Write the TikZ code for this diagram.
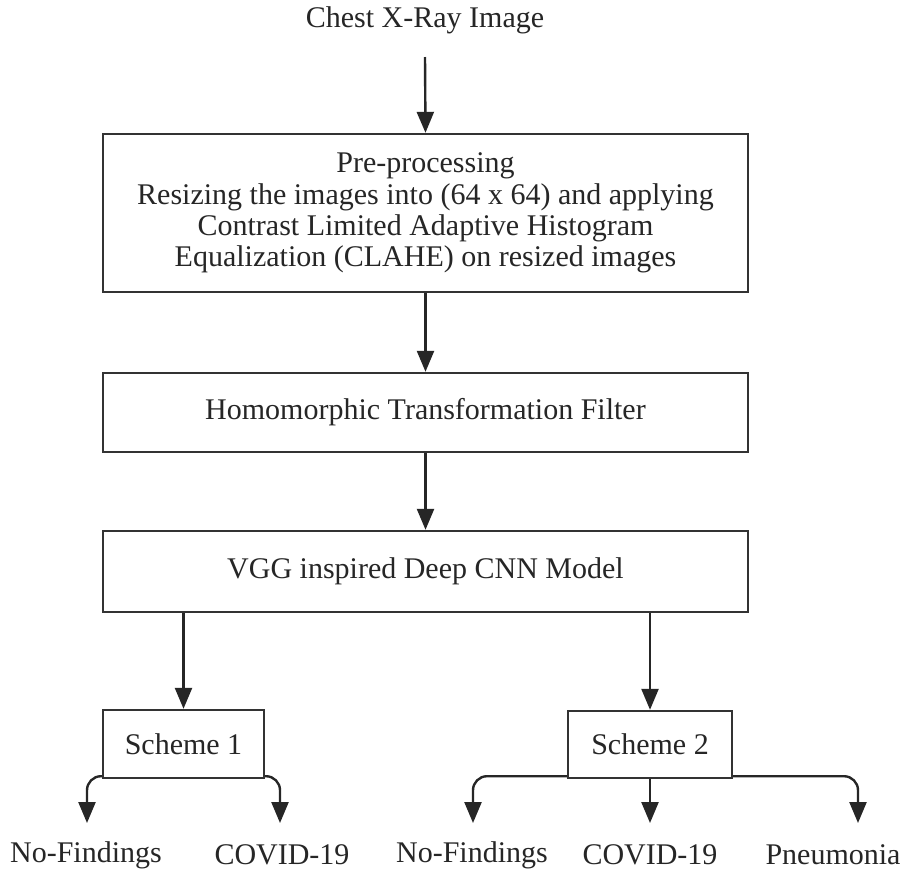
\documentclass[tikz,border=0pt]{standalone}
\usepackage{fontspec}
\setmainfont{Liberation Serif}
\usetikzlibrary{arrows.meta}
\begin{document}
\begin{tikzpicture}[x=1pt,y=-1pt,
  every node/.style={font=\fontsize{30}{31.3}\selectfont, text=black!85},
  box/.style={draw=black!80, line width=2.4pt, align=center, inner sep=0pt},
  lbl/.style={inner sep=0pt},
  flow/.style={draw=black!85, line width=2.4pt, -{Triangle[width=17pt,length=21pt]}},
  branch/.style={flow, rounded corners=14pt}]
\useasboundingbox (0,0) rectangle (902,871);
\fill[white] (0,0) rectangle (902,871);

\node[lbl] (img) at (425,20) {Chest X-Ray Image};
\node[box, minimum width=645pt, minimum height=158pt] (pre) at (425.5,213)
  {Pre-processing\\Resizing the images into (64 x 64) and applying\\Contrast Limited Adaptive Histogram\\Equalization (CLAHE) on resized images};
\node[box, minimum width=645pt, minimum height=79pt] (homo) at (425.5,412.5)
  {Homomorphic Transformation Filter};
\node[box, minimum width=645pt, minimum height=81pt] (cnn) at (425.5,571.5)
  {VGG inspired Deep CNN Model};
\node[box, minimum width=161pt, minimum height=68pt] (s1) at (183.5,744) {Scheme 1};
\node[box, minimum width=164pt, minimum height=67pt] (s2) at (650,744.5) {Scheme 2};

\node[lbl] (nf1) at (86,855) {No-Findings};
\node[lbl] (cv1) at (282,855) {COVID-19};
\node[lbl] (nf2) at (472,855) {No-Findings};
\node[lbl] (cv2) at (650,855) {COVID-19};
\node[lbl] (pn2) at (833,855) {Pneumonia};

\coordinate (imgout) at (425,57);
\coordinate (t1) at (87,823);
\coordinate (t2) at (280,823);
\coordinate (t3) at (473,823);
\coordinate (t4) at (650,823);
\coordinate (t5) at (858,823);

\draw[flow] (imgout) -- (pre.north);
\draw[flow] (pre.south) -- (homo.north);
\draw[flow] (homo.south) -- (cnn.north);
\draw[flow] (cnn.south -| s1.north) -- (s1.north);
\draw[flow] (cnn.south -| s2.north) -- (s2.north);

\draw[branch] ([yshift=3pt]s1.south west) -| (t1);
\draw[branch] ([yshift=3pt]s1.south east) -| (t2);
\draw[branch] ([yshift=3pt]s2.south west) -| (t3);
\draw[flow] (s2.south) -- (t4);
\draw[branch] ([yshift=3pt]s2.south east) -| (t5);
\end{tikzpicture}
\end{document}
